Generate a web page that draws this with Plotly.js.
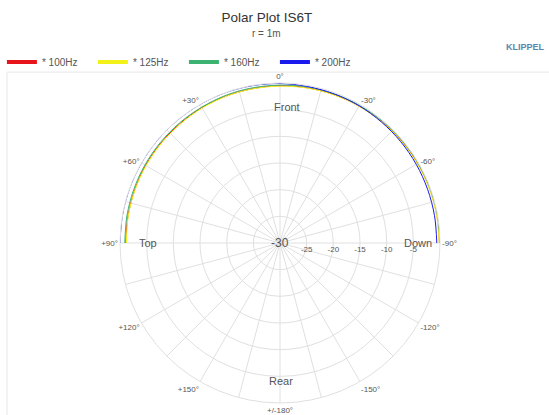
<!DOCTYPE html>
<html>
<head>
<meta charset="utf-8">
<script src="https://cdn.plot.ly/plotly-3.0.1.min.js"></script>
<style>html,body{margin:0;padding:0;background:#fff;}#chart{width:549px;height:415px;}</style>
</head>
<body>
<div id="chart"></div>
<script>
// Angles (degrees), 0 = front, + = toward Top, - = toward Down
const angles = [-90,-80,-70,-60,-50,-40,-30,-20,-10,0,10,20,30,40,50,60,70,80,90];
const seriesNames = ["* 100Hz", "* 125Hz", "* 160Hz", "* 200Hz"];
const seriesColors = ["#e8141b", "#f2f21a", "#3cb371", "#1a1aee"];
const level100 = [-0.1,-0.12,-0.15,-0.2,-0.25,-0.3,-0.35,-0.4,-0.45,-0.5,-0.6,-0.65,-0.7,-0.8,-0.85,-0.9,-1.0,-1.05,-1.1];
const level125 = [-0.15,-0.18,-0.2,-0.25,-0.3,-0.35,-0.4,-0.45,-0.5,-0.6,-0.65,-0.7,-0.8,-0.9,-0.95,-1.0,-1.05,-1.1,-1.2];
const level160 = [0,-0.02,-0.05,-0.08,-0.1,-0.15,-0.2,-0.25,-0.3,-0.4,-0.45,-0.5,-0.6,-0.65,-0.7,-0.75,-0.8,-0.85,-0.9];
const level200 = [-0.6,-0.58,-0.55,-0.5,-0.45,-0.4,-0.3,-0.25,-0.2,-0.1,-0.05,0,0,0,0,0,0,0,0];
const levels = [level100, level125, level160, level200];

// grid spokes every 15 deg, expressed in [0, 360)
const gridAngles = [0,15,30,45,60,75,90,105,120,135,150,165,180,195,210,225,240,255,270,285,300,315,330,345];
const gridLabels = ["0°","","+30°","","+60°","","+90°","","+120°","","+150°","","+/-180°","","-150°","","-120°","","-90°","","-60°","","-30°",""];
const radialTicks = [-25,-20,-15,-10,-5];
const radialTickText = ["-25","-20","-15","-10","-5"];

const traces = [];
levels.forEach((lv, i) => {
  traces.push({
    type: "scatterpolar", mode: "lines", r: lv, theta: angles,
    line: {color: seriesColors[i], width: 1, shape: "spline"},
    showlegend: false, legendgroup: "g" + i, hoverinfo: "skip"
  });
});
levels.forEach((lv, i) => {
  traces.push({
    type: "scatterpolar", mode: "lines", r: [null], theta: [null],
    name: seriesNames[i], line: {color: seriesColors[i], width: 4},
    showlegend: true, legendgroup: "g" + i
  });
});

const FONT = "Liberation Sans, Arial, sans-serif";
const ann = (text, x, y, size, extra) => Object.assign({text, xref: "paper", yref: "paper", x, y, xanchor: "center", yanchor: "middle",
  showarrow: false, font: {family: FONT, size, color: "#555"}}, extra || {});
const layout = {
  width: 549, height: 415,
  margin: {l: 120, r: 109, t: 83, b: 12, autoexpand: false},
  paper_bgcolor: "#fff",
  font: {family: FONT, color: "#555", size: 9},
  title: {text: "Polar Plot IS6T", x: 0.486, xanchor: "center", y: 0.959, yanchor: "middle", yref: "container",
          font: {family: FONT, size: 13.5, color: "#333"}, automargin: false},
  showlegend: true,
  legend: {orientation: "h", xref: "paper", yref: "paper", x: -0.369, xanchor: "left", y: 1.066, yanchor: "middle",
           font: {family: FONT, size: 10, color: "#555"}, itemwidth: 30, entrywidth: 46, entrywidthmode: "pixels",
           tracegroupgap: 0, bgcolor: "rgba(0,0,0,0)"},
  polar: {
    domain: {x: [0, 1], y: [0, 1]},
    bgcolor: "#fff",
    angularaxis: {rotation: 90, direction: "counterclockwise", tickmode: "array", tickvals: gridAngles, ticktext: gridLabels,
                  showgrid: true, gridcolor: "#e0e0e0", gridwidth: 1, showline: true, linecolor: "#e0e0e0", linewidth: 1,
                  ticks: "", tickfont: {family: FONT, size: 8, color: "#555"}},
    radialaxis: {range: [-30, 0], angle: 0, tickmode: "array", tickvals: radialTicks, ticktext: radialTickText,
                 showgrid: true, gridcolor: "#e0e0e0", gridwidth: 1, showline: false, ticks: "", side: "clockwise",
                 tickfont: {family: FONT, size: 8, color: "#555"}}
  },
  shapes: [
    {type: "rect", xref: "paper", yref: "paper", x0: -0.353, x1: 1.35, y0: -0.06, y1: 1.034,
     line: {color: "#e6e6e6", width: 1}, fillcolor: "rgba(0,0,0,0)", layer: "below"}
  ],
  annotations: [
    ann("r = 1m", 0.459, 1.156, 10),
    ann("<b>KLIPPEL</b>", 1.334, 1.1125, 9, {xanchor: "right", font: {family: FONT, size: 9, color: "#5a87b2"}}),
    ann("Front", 0.522, 0.925, 11),
    ann("Top", 0.0875, 0.5, 11),
    ann("Down", 0.931, 0.5, 11),
    ann("Rear", 0.503, 0.069, 11),
    ann("-30", 0.5, 0.5, 12)
  ]
};
Plotly.newPlot("chart", traces, layout, {displayModeBar: false, staticPlot: true});
</script>
</body>
</html>
